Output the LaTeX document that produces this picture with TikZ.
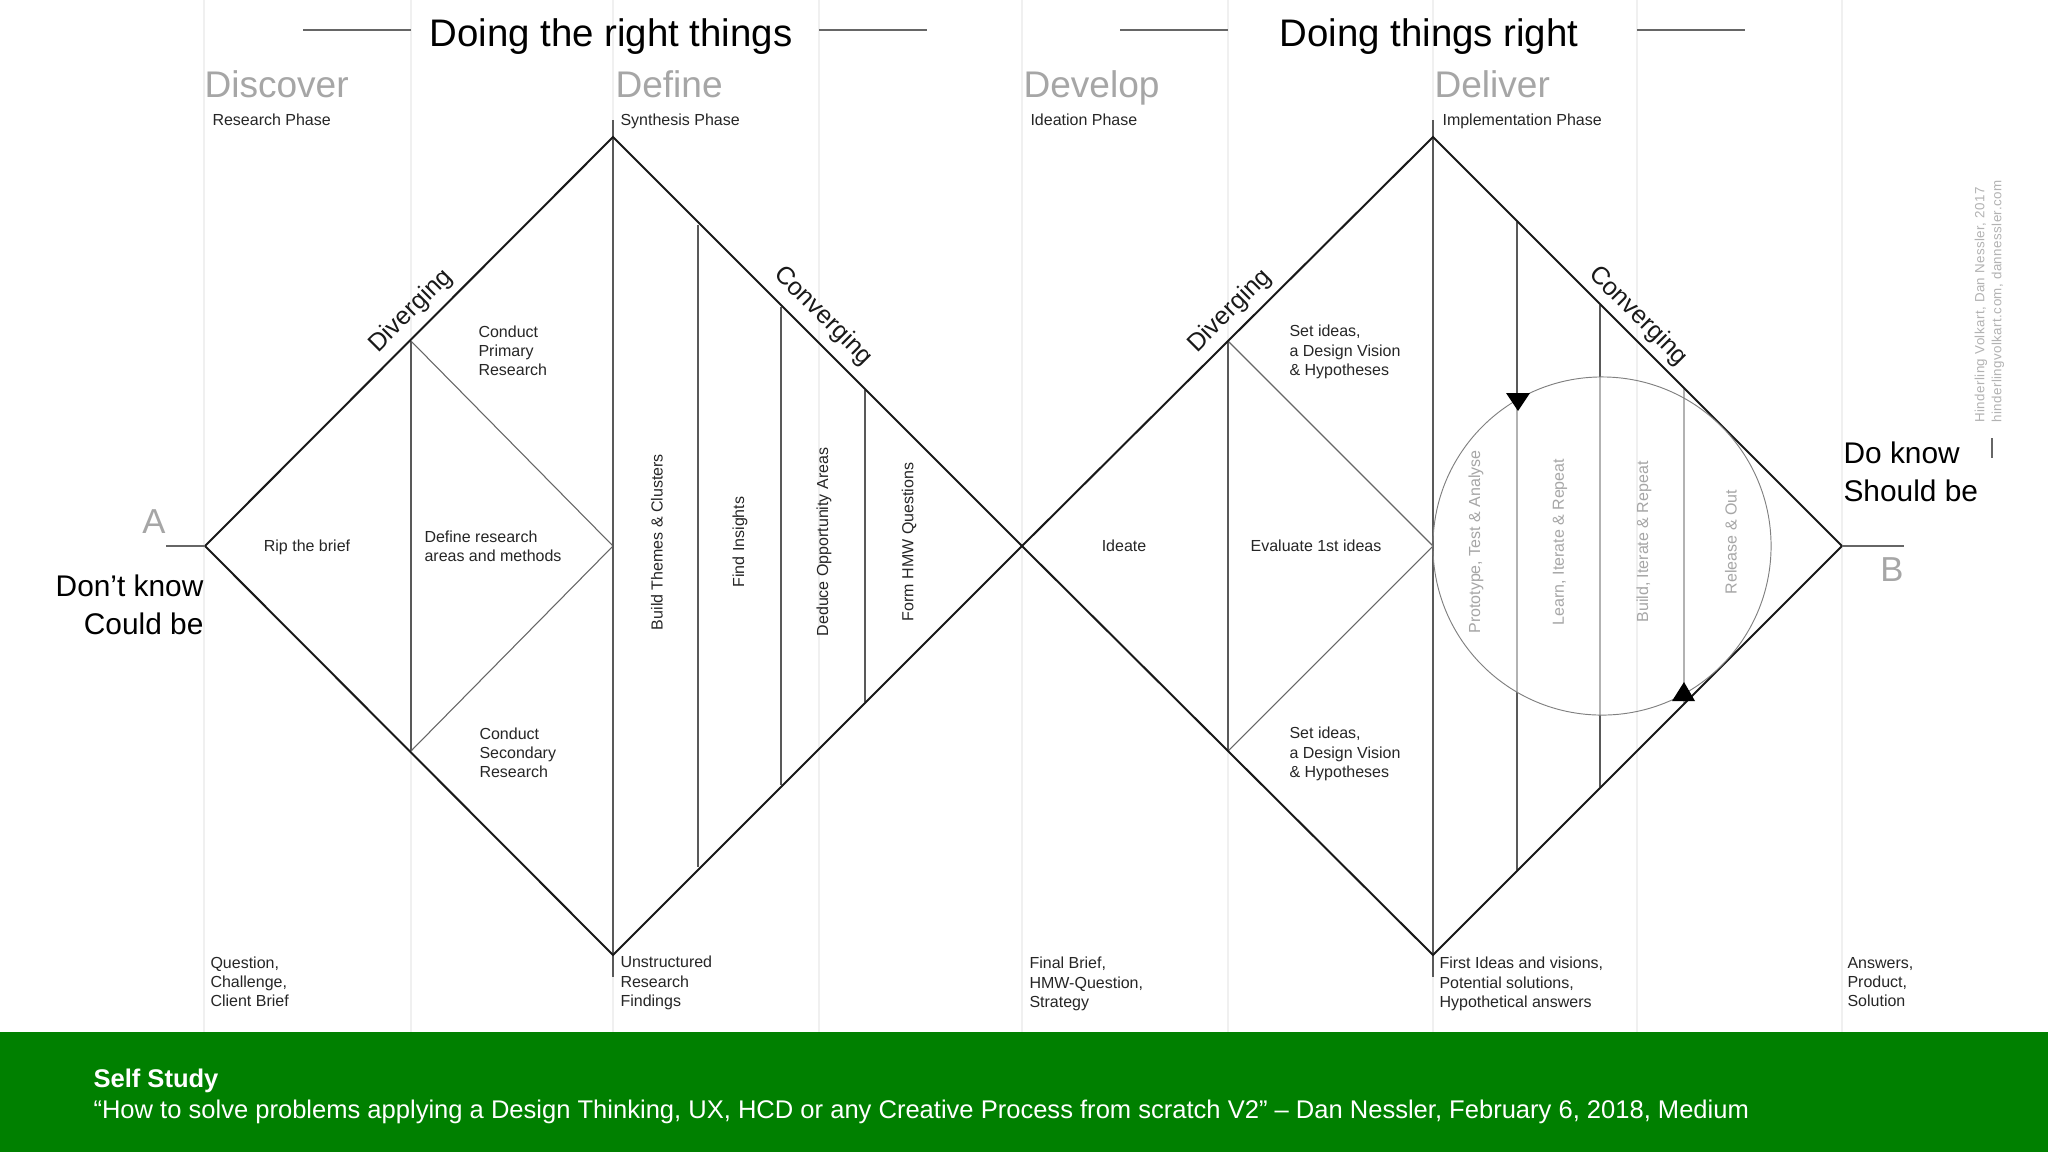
\documentclass[tikz,border=0pt]{standalone}
\usepackage{fontspec}
\setmainfont{Liberation Sans}
\usetikzlibrary{calc}
\begin{document}
\begin{tikzpicture}[x=0.375pt,y=-0.375pt,
      outline/.style={black!90,line width=0.75pt},
      divider/.style={black!65,line width=0.55pt},
      faintdiv/.style={black!30,line width=0.55pt},
      thinln/.style={black!60,line width=0.4pt},
      gridln/.style={black!6,line width=0.4pt},
      heading/.style={inner sep=0pt,black,font=\fontsize{14.4}{17}\selectfont},
      phase/.style={inner sep=0pt,anchor=base west,black!35,font=\fontsize{13.9}{17}\selectfont},
      small/.style={inner sep=0pt,anchor=west,align=left,black!85,font=\fontsize{6}{7.2}\selectfont},
      smallc/.style={inner sep=0pt,black!85,font=\fontsize{6}{7.2}\selectfont},
      faintc/.style={inner sep=0pt,black!35,font=\fontsize{6}{7.2}\selectfont},
      slanted/.style={inner sep=0pt,black!90,font=\fontsize{9.4}{11}\selectfont},
      state/.style={inner sep=0pt,align=left,black,font=\fontsize{11.2}{14.2}\selectfont},
      endpt/.style={inner sep=0pt,black!35,font=\fontsize{13}{16}\selectfont},
      credit/.style={inner sep=0pt,anchor=west,black!30,font=\fontsize{5}{6}\selectfont\addfontfeature{LetterSpace=3.2}},
      band/.style={inner sep=0pt,anchor=west,white,font=\fontsize{9.58}{12}\selectfont}]
   \useasboundingbox (0,0) rectangle (2048,1152);
   % page frame
   \coordinate (pagetop) at (0,0);
   \coordinate (bandtl) at (0,1032);
   \coordinate (bandbr) at (2048,1152);
   \fill[white] (pagetop) rectangle (bandbr);
   %
   % column positions
   \coordinate (c1) at (204,0);
   \coordinate (c2) at (411,0);
   \coordinate (c3) at (613,0);
   \coordinate (c4) at (819,0);
   \coordinate (c5) at (1022,0);
   \coordinate (c6) at (1228,0);
   \coordinate (c7) at (1433,0);
   \coordinate (c8) at (1637,0);
   \coordinate (c9) at (1842,0);
   \draw[gridln] (c1) -- (c1 |- bandtl);
   \draw[gridln] (c2) -- (c2 |- bandtl);
   \draw[gridln] (c3) -- (c3 |- bandtl);
   \draw[gridln] (c4) -- (c4 |- bandtl);
   \draw[gridln] (c5) -- (c5 |- bandtl);
   \draw[gridln] (c6) -- (c6 |- bandtl);
   \draw[gridln] (c7) -- (c7 |- bandtl);
   \draw[gridln] (c8) -- (c8 |- bandtl);
   \draw[gridln] (c9) -- (c9 |- bandtl);
   %
   % diamond corners
   \coordinate (pa) at (205,546);
   \coordinate (top1) at (613,137);
   \coordinate (bot1) at (613,955);
   \coordinate (pm) at (1022,546);
   \coordinate (top2) at (1433,137);
   \coordinate (bot2) at (1433,955);
   \coordinate (pb) at (1842,546);
   %
   % first diamond, inside
   \coordinate (d1t) at (411,341);
   \coordinate (d1b) at (411,751);
   \coordinate (d1r) at (613,546);
   \draw[divider] (d1t) -- (d1b);
   \draw[thinln] (d1t) -- (d1r) -- (d1b);
   \coordinate (tick1t) at (613,120);
   \coordinate (tick1b) at (613,977);
   \draw[divider] (tick1t) -- (tick1b);
   \coordinate (v1t) at (698,225);
   \coordinate (v1b) at (698,867);
   \coordinate (v2t) at (781,307);
   \coordinate (v2b) at (781,785);
   \coordinate (v3t) at (865,390);
   \coordinate (v3b) at (865,702);
   \draw[divider] (v1t) -- (v1b);
   \draw[divider] (v2t) -- (v2b);
   \draw[divider] (v3t) -- (v3b);
   %
   % second diamond, inside
   \coordinate (d2t) at (1228,341);
   \coordinate (d2b) at (1228,751);
   \coordinate (d2r) at (1433,546);
   \draw[divider] (d2t) -- (d2b);
   \draw[thinln] (d2t) -- (d2r) -- (d2b);
   \coordinate (tick2t) at (1433,120);
   \coordinate (tick2b) at (1433,977);
   \draw[divider] (tick2t) -- (tick2b);
   \coordinate (v4t) at (1517,222);
   \coordinate (v4a) at (1517,400);
   \coordinate (v4c) at (1517,692);
   \coordinate (v4b) at (1517,870);
   \coordinate (v5t) at (1600,305);
   \coordinate (v5a) at (1600,377);
   \coordinate (v5c) at (1600,715);
   \coordinate (v5b) at (1600,787);
   \coordinate (v6t) at (1684,389);
   \coordinate (v6b) at (1684,703);
   \draw[divider] (v4t) -- (v4a);
   \draw[faintdiv] (v4a) -- (v4c);
   \draw[divider] (v4c) -- (v4b);
   \draw[divider] (v5t) -- (v5a);
   \draw[faintdiv] (v5a) -- (v5c);
   \draw[divider] (v5c) -- (v5b);
   \draw[faintdiv] (v6t) -- (v6b);
   %
   % outlines
   \draw[outline] (pa) -- (top1) -- (pm) -- (bot1) -- cycle;
   \draw[outline] (pm) -- (top2) -- (pb) -- (bot2) -- cycle;
   %
   % loop
   \node (loop) at (1602,546) [draw=black!50,line width=0.35pt,circle,minimum size=126.8pt,inner sep=0pt] {};
   \coordinate (h1a) at (1506,393);
   \coordinate (h1b) at (1530,393);
   \coordinate (h1c) at (1518,411);
   \fill[black] (h1a) -- (h1b) -- (h1c) -- cycle;
   \coordinate (h2a) at (1672,701);
   \coordinate (h2b) at (1695,701);
   \coordinate (h2c) at (1684,682);
   \fill[black] (h2a) -- (h2b) -- (h2c) -- cycle;
   %
   % headers
   \node (right1) at (611,37) [heading] {Doing the right things};
   \node (right2) at (1429,37) [heading] {Doing things right};
   \coordinate (r1a) at (303,30);
   \coordinate (r1b) at (927,30);
   \coordinate (r2a) at (1120,30);
   \coordinate (r2b) at (1745,30);
   \draw[thinln] (r1a) -- (c2 |- r1a);
   \draw[thinln] (c4 |- r1b) -- (r1b);
   \draw[thinln] (r2a) -- (c6 |- r2a);
   \draw[thinln] (c8 |- r2b) -- (r2b);
   %
   \node (discover) at (204,97) [phase] {Discover};
   \node (define) at (615,97) [phase] {Define};
   \node (develop) at (1023,97) [phase] {Develop};
   \node (deliver) at (1434,97) [phase] {Deliver};
   \node (research) at (212,120) [small] {Research Phase};
   \node (synthesis) at (620,121) [small] {Synthesis Phase};
   \node (ideation) at (1030,120) [small] {Ideation Phase};
   \node (implement) at (1442,121) [small] {Implementation Phase};
   %
   % start and end
   \node (a) at (154,522) [endpt] {A};
   \node (b) at (1892,570) [endpt] {B};
   \coordinate (astub) at (166,546);
   \coordinate (bstub) at (1904,546);
   \draw[thinln] (astub) -- (pa);
   \draw[thinln] (pb) -- (bstub);
   \node (dontknow) at (204,605) [state,anchor=east,align=right] {Don’t know\\Could be};
   \node (doknow) at (1843,472) [state,anchor=west] {Do know\\Should be};
   %
   % edge labels
   \node (div1) at (411,311) [slanted,rotate=45] {Diverging};
   \node (div2) at (1230,311) [slanted,rotate=45] {Diverging};
   \node (con1) at (823,316) [slanted,rotate=-45] {Converging};
   \node (con2) at (1638,316) [slanted,rotate=-45] {Converging};
   %
   % first diamond labels
   \node (primary) at (478,351) [small] {Conduct\\Primary\\Research};
   \node (brief) at (307,547) [smallc] {Rip the brief};
   \node (areas) at (424,546) [small] {Define research\\areas and methods};
   \node (secondary) at (479,753) [small] {Conduct\\Secondary\\Research};
   \node (themes) at (657,542) [smallc,rotate=90] {Build Themes \& Clusters};
   \node (insights) at (740,542) [smallc,rotate=90] {Find Insights};
   \node (opport) at (824,542) [smallc,rotate=90] {Deduce Opportunity Areas};
   \node (hmw) at (909,542) [smallc,rotate=90] {Form HMW Questions};
   %
   % second diamond labels
   \node (ideate) at (1124,546) [smallc] {Ideate};
   \node (evaluate) at (1316,546) [smallc] {Evaluate 1st ideas};
   \node (setup) at (1289,352) [small] {Set ideas,\\a Design Vision\\\& Hypotheses};
   \node (setdown) at (1289,754) [small] {Set ideas,\\a Design Vision\\\& Hypotheses};
   \node (proto) at (1476,542) [faintc,rotate=90] {Prototype, Test \& Analyse};
   \node (learn) at (1560,542) [faintc,rotate=90] {Learn, Iterate \& Repeat};
   \node (build) at (1644,542) [faintc,rotate=90] {Build, Iterate \& Repeat};
   \node (release) at (1731,542) [faintc,rotate=90] {Release \& Out};
   %
   % bottom row
   \node (question) at (210,982) [small] {Question,\\Challenge,\\Client Brief};
   \node (unstruct) at (620,983) [small] {Unstructured\\Research\\Findings};
   \node (final) at (1029,984) [small] {Final Brief,\\HMW-Question,\\Strategy};
   \node (first) at (1439,984) [small] {First Ideas and visions,\\Potential solutions,\\Hypothetical answers};
   \node (answers) at (1847,982) [small] {Answers,\\Product,\\Solution};
   %
   % credit
   \node (credit1) at (1981,423) [credit,rotate=90] {Hinderling Volkart, Dan Nessler, 2017};
   \node (credit2) at (1998,423) [credit,rotate=90] {hinderlingvolkart.com, dannessler.com};
   \coordinate (tickra) at (1992,438);
   \coordinate (tickrb) at (1992,458);
   \draw[thinln] (tickra) -- (tickrb);
   %
   % green band
   \fill[green!50!black] (bandtl) rectangle (bandbr);
   \node (selfstudy) at (93,1081) [band] {\textbf{Self Study}};
   \node (source) at (93,1112) [band] {“How to solve problems applying a Design Thinking, UX, HCD or any Creative Process from scratch V2” – Dan Nessler, February 6, 2018, Medium};
\end{tikzpicture}
\end{document}
